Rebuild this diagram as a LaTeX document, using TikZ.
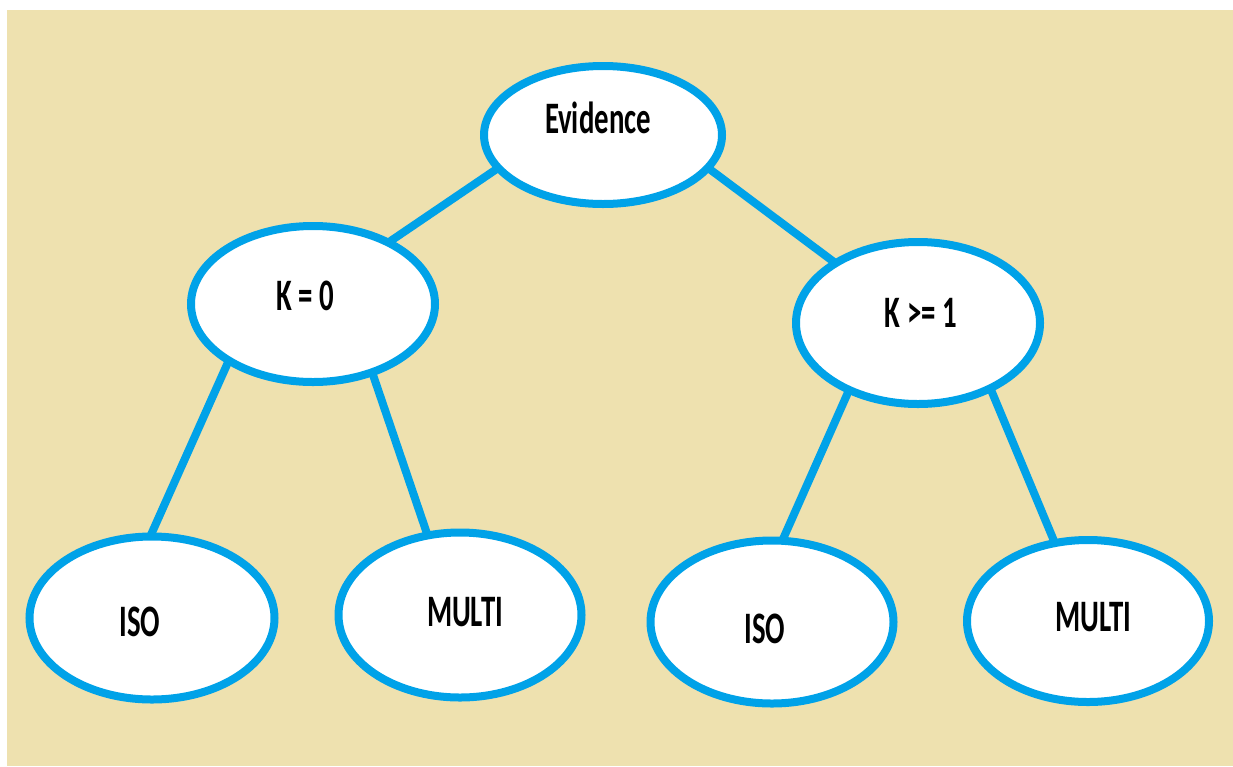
\documentclass[tikz,border=0pt]{standalone}
\usepackage{fontspec}
\setmainfont{Carlito}
\usetikzlibrary{shapes.geometric,backgrounds}
\definecolor{bgbeige}{HTML}{EEE1AF}
\definecolor{nodeblue}{HTML}{00A2E8}
\tikzset{
  bubble/.style={ellipse, draw=nodeblue, line width=8pt, fill=white, inner sep=0pt},
  label/.style={inner sep=0pt, font=\fontsize{45}{50}\selectfont\bfseries},
  link/.style={draw=nodeblue, line width=8pt, shorten <=-6pt, shorten >=-6pt}
}
\newcommand{\sq}[1]{\scalebox{0.64}[1]{#1}}
\begin{document}
\begin{tikzpicture}[x=1pt,y=-1pt]
  \useasboundingbox (0,0) rectangle (1233,766);

  \node[bubble, minimum width=238pt, minimum height=138pt] (ev) at (603,135) {};
  \node[bubble, minimum width=244pt, minimum height=156pt] (k0) at (313,304) {};
  \node[bubble, minimum width=244pt, minimum height=162pt] (k1) at (918,323) {};
  \node[bubble, minimum width=245pt, minimum height=163pt] (isoL) at (152,618) {};
  \node[bubble, minimum width=243pt, minimum height=165pt] (multiL) at (460,615) {};
  \node[bubble, minimum width=243pt, minimum height=163pt] (isoR) at (772,622) {};
  \node[bubble, minimum width=242pt, minimum height=162pt] (multiR) at (1088,621) {};

  \node[label] (tev) at (598,118) {\sq{Evidence}};
  \node[label] (tk0) at (305,296) {\sq{K = 0}};
  \node[label] (tk1) at (921,313) {\sq{K >= 1}};
  \node[label] (tisoL) at (140,622) {\sq{ISO}};
  \node[label] (tmultiL) at (465,612) {\sq{MULTI}};
  \node[label] (tisoR) at (765,629) {\sq{ISO}};
  \node[label] (tmultiR) at (1093,617) {\sq{MULTI}};

  \begin{scope}[on background layer]
    \fill[white] (0,0) rectangle (1233,766);
    \fill[bgbeige] (7,10) rectangle (1233,766);
    \draw[link] (ev.198) -- (k0.39);
    \draw[link] (ev.342) -- (k1.144);
    \draw[link] (k0.215) -- (isoL.90);
    \draw[link] (k0.310) -- (multiL.112);
    \draw[link] (k1.225) -- (isoR.82);
    \draw[link] (k1.317) -- (multiR.113);
  \end{scope}
\end{tikzpicture}
\end{document}
